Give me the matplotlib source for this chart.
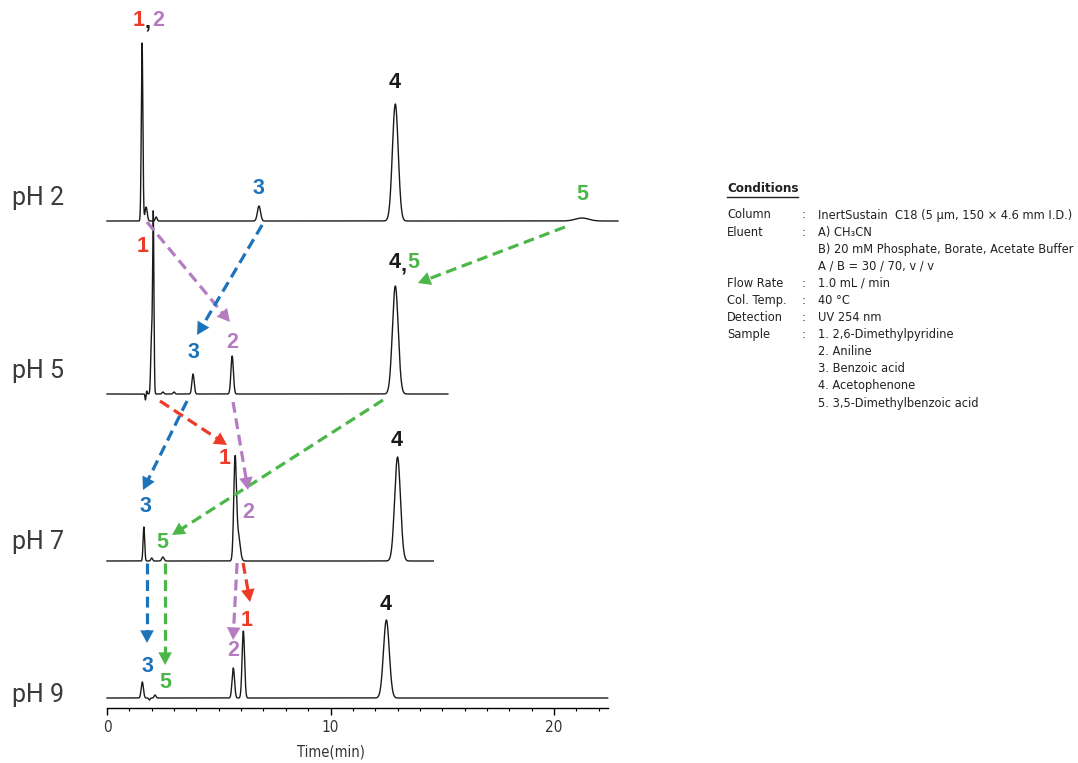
import numpy as np
import matplotlib
matplotlib.use("Agg")
import matplotlib.pyplot as plt
from matplotlib.lines import Line2D
from matplotlib import font_manager

# peak tables: retention time (min), height, width (sigma, min)
ph2_rt = [1.57, 1.75, 2.2, 6.8, 12.9, 21.25]
ph2_h = [178, 14, 4, 15, 117, 3]
ph2_sig = [0.035, 0.05, 0.04, 0.07, 0.13, 0.3]

ph5_rt = [1.72, 1.78, 1.99, 2.07, 2.5, 3.0, 3.85, 5.6, 12.9]
ph5_h = [-6, 3, 55, 179, 2, 2, 20, 38, 108]
ph5_sig = [0.02, 0.02, 0.035, 0.03, 0.04, 0.04, 0.05, 0.055, 0.13]

ph7_rt = [1.65, 2.0, 2.5, 5.73, 5.88, 13.0]
ph7_h = [34, 3, 4, 101, 25, 104]
ph7_sig = [0.035, 0.04, 0.05, 0.06, 0.08, 0.13]

ph9_rt = [1.58, 1.9, 2.15, 5.65, 6.1, 12.5]
ph9_h = [16, -2, 3, 30, 67, 78]
ph9_sig = [0.05, 0.03, 0.04, 0.055, 0.055, 0.13]

trace_names = ["pH 2", "pH 5", "pH 7", "pH 9"]
trace_end = [22.86, 15.25, 14.6, 22.4]

# migration arrows: (t0, y0, t1, y1, compound)
arrows = [
    (1.79, 486, 5.50, 386, 2),
    (6.94, 483, 4.03, 373, 3),
    (20.49, 481, 13.91, 425, 5),
    (2.37, 307, 5.37, 263, 1),
    (3.58, 307, 1.61, 218, 3),
    (5.64, 306, 6.31, 218, 2),
    (12.35, 308, 2.91, 173, 5),
    (1.79, 145, 1.79, 65, 3),
    (2.60, 145, 2.60, 43, 5),
    (5.82, 145, 5.64, 68, 2),
    (6.09, 145, 6.40, 106, 1),
]

# peak labels: (t, y, text, compound)
labels = [
    (1.43, 688, "1", 1), (1.83, 686, ",", 4), (2.28, 688, "2", 2),
    (6.80, 520, "3", 3), (12.88, 626, "4", 4), (21.25, 513, "5", 5),
    (1.61, 461, "1", 1), (3.85, 355, "3", 3), (5.59, 365, "2", 2),
    (12.88, 445, "4", 4), (13.29, 443, ",", 4), (13.70, 445, "5", 5),
    (1.70, 201, "3", 3), (2.46, 166, "5", 5), (5.28, 250, "1", 1),
    (6.31, 196, "2", 2), (12.97, 268, "4", 4),
    (1.83, 41, "3", 3), (2.60, 26, "5", 5), (5.64, 58, "2", 2),
    (6.26, 88, "1", 1), (12.48, 103, "4", 4),
]

colors = {1: "#ec3b26", 2: "#b57cc2", 3: "#1d73ba", 4: "#1a1a1a", 5: "#4bb748"}

conditions = [
    ("Column", "InertSustain  C18 (5 µm, 150 × 4.6 mm I.D.)"),
    ("Eluent", "A) CH₃CN"),
    ("", "B) 20 mM Phosphate, Borate, Acetate Buffer"),
    ("", "A / B = 30 / 70, v / v"),
    ("Flow Rate", "1.0 mL / min"),
    ("Col. Temp.", "40 °C"),
    ("Detection", "UV 254 nm"),
    ("Sample", "1. 2,6-Dimethylpyridine"),
    ("", "2. Aniline"),
    ("", "3. Benzoic acid"),
    ("", "4. Acetophenone"),
    ("", "5. 3,5-Dimethylbenzoic acid"),
]

# look for a condensed sans face
condensed = None
for f in font_manager.fontManager.ttflist:
    nm = f.name.lower()
    if "mono" in nm or "serif" in nm:
        continue
    if "narrow" in nm or "condensed" in nm or f.stretch in ("condensed", "semi-condensed"):
        condensed = f.name
        break
narrow = [condensed, "DejaVu Sans"] if condensed else ["Liberation Sans", "DejaVu Sans"]
bold_font = ["Liberation Sans", "DejaVu Sans"]

W, H = 1078, 763
fig = plt.figure(figsize=(W / 100, H / 100), dpi=100)
axis_y = 708
ax = fig.add_axes([0, (H - axis_y) / H, 1, axis_y / H])
px_per_min = 22.35
t_left = -107 / px_per_min
ax.set_xlim(t_left, t_left + W / px_per_min)
ax.set_ylim(0, axis_y)
for s in ["top", "left", "right"]:
    ax.spines[s].set_visible(False)
ax.spines["bottom"].set_bounds(0, 22.4)
ax.spines["bottom"].set_linewidth(1.0)
ax.set_yticks([])
ax.set_xticks([0, 10, 20])
ax.set_xticks(np.arange(0, 23, 1), minor=True)
ax.tick_params(axis="x", which="major", length=5, width=1.0, pad=4,
               labelcolor="#333333", labelsize=11)
ax.tick_params(axis="x", which="minor", length=2.5, width=0.8)
for lab in ax.get_xticklabels():
    lab.set_family(narrow)
    lab.set_stretch("condensed")
ax.text(10, -44, "Time(min)", ha="center", va="center", family=narrow,
        stretch="condensed", color="#333333", fontsize=10.5)

# chromatograms
baselines = [487, 314, 147, 10]
tables = [(ph2_rt, ph2_h, ph2_sig), (ph5_rt, ph5_h, ph5_sig),
          (ph7_rt, ph7_h, ph7_sig), (ph9_rt, ph9_h, ph9_sig)]
for base, (rt, hh, sg), t_end in zip(baselines, tables, trace_end):
    t = np.linspace(0, t_end, 6000)
    y = np.full_like(t, base, dtype=float)
    for r, h, s in zip(rt, hh, sg):
        y += h * np.exp(-0.5 * ((t - r) / s) ** 2)
    ax.plot(t, y, color="#1a1a1a", lw=1.0)

# pH labels
ph_y = [205, 378, 549, 702]
for name, py in zip(trace_names, ph_y):
    fig.text(12 / W, 1 - py / H, name, fontsize=18, family=["Roboto", "DejaVu Sans"],
             ha="left", va="baseline", color="#3a3a3a")


def dashed_arrow(t0, y0, t1, y1, color):
    p0 = ax.transData.transform((t0, y0))
    p1 = ax.transData.transform((t1, y1))
    d = p1 - p0
    u = d / np.hypot(*d)
    pm = p1 - u * 12
    tm, ym = ax.transData.inverted().transform(pm)
    ax.plot([t0, tm], [y0, ym], color=color, lw=2.3, ls=(0, (3.4, 1.8)),
            solid_capstyle="butt", dash_capstyle="butt")
    ax.annotate("", xy=(t1, y1), xytext=(tm, ym),
                arrowprops=dict(arrowstyle="-|>,head_length=0.65,head_width=0.35",
                                color=color, lw=0, shrinkA=0, shrinkB=0,
                                mutation_scale=14))


for t0, y0, t1, y1, c in arrows:
    dashed_arrow(t0, y0, t1, y1, colors[c])

for t, y, txt, c in labels:
    ax.text(t, y, txt, color=colors[c], fontsize=15.5, fontweight="bold",
            family=bold_font, ha="center", va="center")

# conditions block
small_texts = []
x0, xc, xv = 727, 802, 818
head = fig.text(x0 / W, 1 - 188 / H, "Conditions", fontsize=10.5, fontweight="bold",
                family=narrow, stretch="condensed", ha="left", va="center", color="#222222")
fig.add_artist(Line2D([x0 / W, 798 / W], [1 - 197 / H, 1 - 197 / H],
                      color="#222222", lw=1.0))
widest = None
for i, (key, val) in enumerate(conditions):
    py = 215 + i * 17.1
    if key:
        small_texts.append(fig.text(x0 / W, 1 - py / H, key, family=narrow,
                                    stretch="condensed", ha="left", va="center", color="#222222"))
        small_texts.append(fig.text(xc / W, 1 - py / H, ":", family=narrow,
                                    stretch="condensed", ha="left", va="center", color="#222222"))
    txt = fig.text(xv / W, 1 - py / H, val, family=narrow, stretch="condensed",
                   ha="left", va="center", color="#222222")
    small_texts.append(txt)
    if i == 0:
        widest = txt

# size the small text so the widest line spans about 255 px, as in the reference
size = 10.0
for tx in small_texts:
    tx.set_fontsize(size)
renderer = fig.canvas.get_renderer()
w = widest.get_window_extent(renderer).width
size = min(10.5, size * 255 / w)
for tx in small_texts:
    tx.set_fontsize(size)
hw = head.get_window_extent(renderer).width
head.set_fontsize(min(12, 10.5 * 72 / hw))

fig.savefig("out.png", dpi=100)
